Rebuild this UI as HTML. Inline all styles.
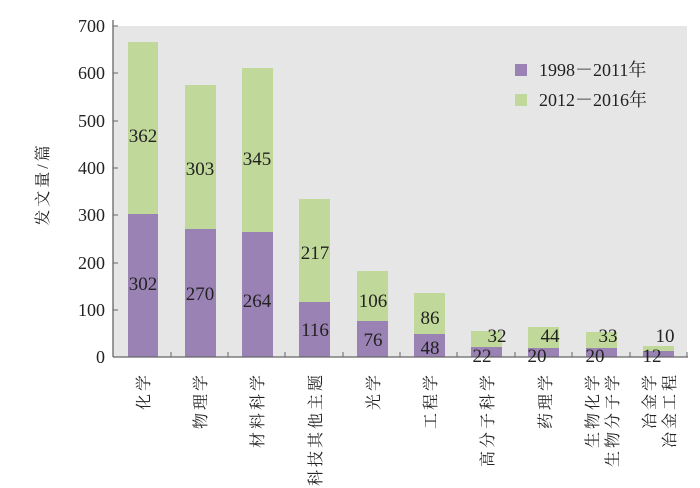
<!DOCTYPE html>
<html><head><meta charset="utf-8"><style>
body{margin:0;background:#fff}
svg{display:block}
text{font-family:"Liberation Serif","Noto Serif CJK SC",serif;fill:#222}
.c{font-family:"Liberation Serif","Noto Serif CJK SC","Noto Sans CJK SC",serif;font-size:16px}
</style></head><body>
<svg width="700" height="488" viewBox="0 0 700 488" xmlns="http://www.w3.org/2000/svg">
<rect x="113" y="26" width="574" height="331" fill="#e6e6e6"/>
<g fill="#9b82b5">
<rect x="128" y="214" width="30" height="143"/>
<rect x="185" y="229" width="31" height="128"/>
<rect x="242" y="232" width="31" height="125"/>
<rect x="299" y="302" width="31" height="55"/>
<rect x="357" y="321" width="31" height="36"/>
<rect x="414" y="334" width="31" height="23"/>
<rect x="471" y="347" width="31" height="10"/>
<rect x="528" y="348" width="31" height="9"/>
<rect x="586" y="348" width="31" height="9"/>
<rect x="643" y="351" width="31" height="6"/>
</g>
<g fill="#c0d89a">
<rect x="128" y="42" width="30" height="172"/>
<rect x="185" y="85" width="31" height="144"/>
<rect x="242" y="68" width="31" height="164"/>
<rect x="299" y="199" width="31" height="103"/>
<rect x="357" y="271" width="31" height="50"/>
<rect x="414" y="293" width="31" height="41"/>
<rect x="471" y="331" width="31" height="16"/>
<rect x="528" y="327" width="31" height="21"/>
<rect x="586" y="332" width="31" height="16"/>
<rect x="643" y="346" width="31" height="5"/>
</g>
<g stroke="#666" stroke-width="1.3" fill="none">
<line x1="113" y1="20" x2="113" y2="357"/>
<line x1="113" y1="357" x2="688" y2="357"/>
</g>
<g stroke="#666" stroke-width="1">
<line x1="113" y1="26" x2="118" y2="26"/><line x1="113" y1="73" x2="118" y2="73"/>
<line x1="113" y1="121" x2="118" y2="121"/><line x1="113" y1="168" x2="118" y2="168"/>
<line x1="113" y1="215" x2="118" y2="215"/><line x1="113" y1="263" x2="118" y2="263"/>
<line x1="113" y1="310" x2="118" y2="310"/>
<line x1="171" y1="357" x2="171" y2="352"/><line x1="228" y1="357" x2="228" y2="352"/>
<line x1="285" y1="357" x2="285" y2="352"/><line x1="343" y1="357" x2="343" y2="352"/>
<line x1="400" y1="357" x2="400" y2="352"/><line x1="457" y1="357" x2="457" y2="352"/>
<line x1="515" y1="357" x2="515" y2="352"/><line x1="572" y1="357" x2="572" y2="352"/>
<line x1="630" y1="357" x2="630" y2="352"/><line x1="687" y1="357" x2="687" y2="352"/>
</g>
<g font-size="18" text-anchor="end">
<text x="105" y="32">700</text><text x="105" y="79">600</text>
<text x="105" y="127">500</text><text x="105" y="174">400</text>
<text x="105" y="221">300</text><text x="105" y="269">200</text>
<text x="105" y="316">100</text><text x="105" y="363">0</text>
</g>
<text class="c" transform="translate(48,184) rotate(-90)" text-anchor="middle" letter-spacing="3">发文量/篇</text>
<g font-size="19" text-anchor="middle">
<text x="143" y="142">362</text><text x="200" y="175">303</text><text x="257" y="165">345</text>
<text x="315" y="259">217</text><text x="373" y="307">106</text><text x="430" y="324">86</text>
<text x="497" y="342">32</text><text x="550" y="342">44</text><text x="608" y="342">33</text><text x="665" y="342">10</text>
<text x="143" y="290">302</text><text x="200" y="300">270</text><text x="257" y="307">264</text>
<text x="315" y="336">116</text><text x="373" y="346">76</text><text x="430" y="354">48</text>
<text x="482" y="362">22</text><text x="537" y="362">20</text><text x="595" y="362">20</text><text x="652" y="362">12</text>
</g>
<rect x="515" y="64" width="12" height="12" fill="#9b82b5"/>
<rect x="515" y="94" width="12" height="12" fill="#c0d89a"/>
<text x="539" y="76" class="c" style="font-size:18px">1998－2011年</text>
<text x="539" y="106" class="c" style="font-size:18px">2012－2016年</text>
<g class="c" text-anchor="end" letter-spacing="3">
<text transform="translate(149,372) rotate(-90)">化学</text>
<text transform="translate(206,372) rotate(-90)">物理学</text>
<text transform="translate(263,372) rotate(-90)">材料科学</text>
<text transform="translate(321,372) rotate(-90)">科技其他主题</text>
<text transform="translate(379,372) rotate(-90)">光学</text>
<text transform="translate(436,372) rotate(-90)">工程学</text>
<text transform="translate(493,372) rotate(-90)">高分子科学</text>
<text transform="translate(551,372) rotate(-90)">药理学</text>
<text transform="translate(598,372) rotate(-90)">生物化学</text>
<text transform="translate(618,372) rotate(-90)">生物分子学</text>
<text transform="translate(655,372) rotate(-90)">冶金学</text>
<text transform="translate(675,372) rotate(-90)">冶金工程</text>
</g>
</svg>
</body></html>
